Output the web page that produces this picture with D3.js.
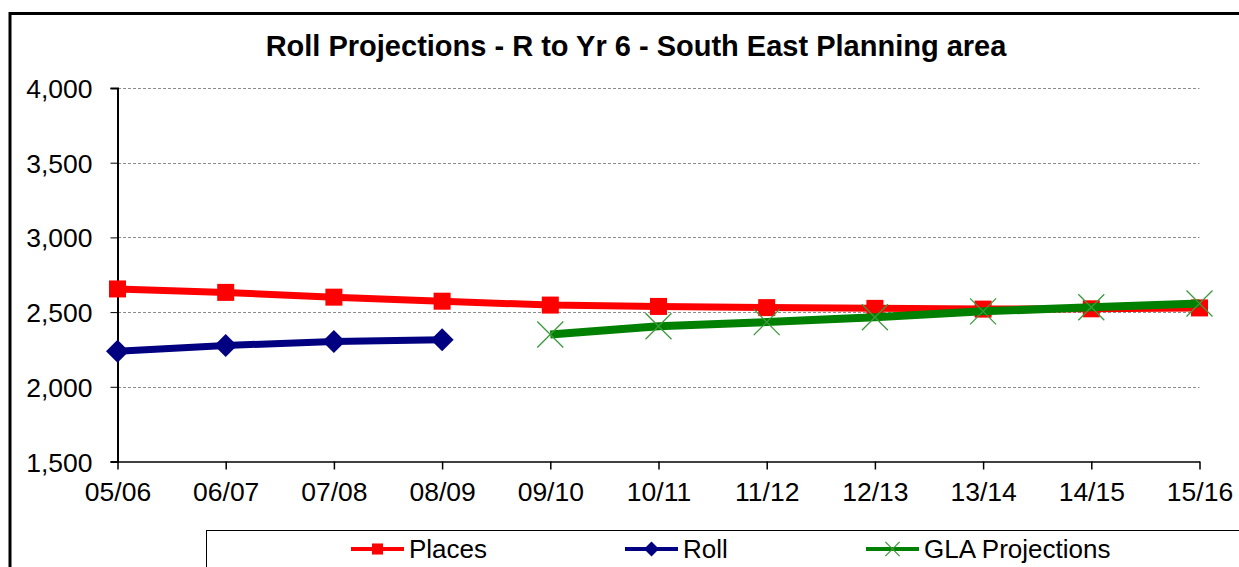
<!DOCTYPE html>
<html>
<head>
<meta charset="utf-8">
<script src="https://cdn.jsdelivr.net/npm/d3@7"></script>
<style>
  body { margin: 0; background: #fff; }
  svg text { font-family: "Liberation Sans", Arial, sans-serif; }
</style>
</head>
<body>
<div id="chart"></div>
<script>
// Data
const years = ["05/06", "06/07", "07/08", "08/09", "09/10", "10/11", "11/12", "12/13", "13/14", "14/15", "15/16"];
const places = [2655, 2632, 2600, 2573, 2547, 2538, 2530, 2525, 2520, 2522, 2528];
const roll = [2238, 2277, 2303, 2315, null, null, null, null, null, null, null];
const gla = [null, null, null, null, 2350, 2405, 2433, 2466, 2505, 2532, 2558];
const yTicks = [1500, 2000, 2500, 3000, 3500, 4000];

const width = 1239, height = 567;
const svg = d3.select("#chart").append("svg").attr("width", width).attr("height", height);

// outer frame (clipped at right and bottom)
svg.append("path").attr("d", `M10,${height + 5} L10,13.5 L${width + 5},13.5`)
  .attr("fill", "none").attr("stroke", "#000").attr("stroke-width", 3);

svg.append("text").text("Roll Projections - R to Yr 6 - South East Planning area")
  .attr("x", 636).attr("y", 56).attr("text-anchor", "middle")
  .attr("font-size", 29).attr("font-weight", "bold");

//Formatting and Scales
const x = d3.scalePoint().domain(years).range([117.5, 1199.5]);
const y = d3.scaleLinear().domain([1500, 4000]).range([461.5, 88]);

// gridlines
svg.append("g").selectAll("line").data(yTicks.slice(1)).join("line")
  .attr("x1", 118).attr("x2", 1199.5)
  .attr("y1", d => Math.round(y(d)) + 0.5).attr("y2", d => Math.round(y(d)) + 0.5)
  .attr("stroke", "#8c8c8c").attr("stroke-width", 1).attr("stroke-dasharray", "3,2");

// axes
const yAxis = d3.axisLeft(y).tickValues(yTicks).tickFormat(d3.format(",")).tickSize(7).tickPadding(18);
const yAxisGroup = svg.append("g").attr("transform", "translate(117.5,0)").call(yAxis);
yAxisGroup.select(".domain").attr("stroke-width", 2);
yAxisGroup.selectAll("text").attr("font-size", 26.5).attr("fill", "#000").attr("dy", "0.36em");

const xAxis = d3.axisBottom(x).tickSize(8).tickPadding(13).tickSizeOuter(0);
const xAxisGroup = svg.append("g").attr("transform", `translate(0,${y(1500)})`).call(xAxis);
xAxisGroup.select(".domain").attr("stroke-width", 1.5);
xAxisGroup.selectAll("text").attr("font-size", 26.5).attr("fill", "#000");
xAxisGroup.selectAll(".tick line").attr("stroke-width", 1.5);

// series
const series = [
  { name: "Places", values: places, color: "#ff0000", marker: "square" },
  { name: "Roll", values: roll, color: "#000080", marker: "diamond" },
  { name: "GLA Projections", values: gla, color: "#008000", marker: "cross" }
];

const line = d3.line().defined(d => d.v != null).x(d => x(d.year)).y(d => y(d.v));

function drawMarker(g, type, color, size) {
  if (type === "square") {
    g.append("rect").attr("x", -8.5 * size).attr("y", -8.5 * size).attr("width", 17 * size).attr("height", 17 * size)
      .attr("fill", color);
  } else if (type === "diamond") {
    const r = 11.5 * size;
    g.append("path").attr("d", `M0,${-r} L${r},0 L0,${r} L${-r},0 Z`).attr("fill", color);
  } else {
    const r = 13 * size;
    g.append("path").attr("d", `M${-r},${-r} L${r},${r} M${-r},${r} L${r},${-r}`)
      .attr("stroke", "#3c9a3c").attr("stroke-width", 1.3).attr("fill", "none");
  }
}

series.forEach(s => {
  const pts = years.map((yr, i) => ({ year: yr, v: s.values[i] }));
  svg.append("path").datum(pts).attr("d", line)
    .attr("fill", "none").attr("stroke", s.color).attr("stroke-width", s.marker === "cross" ? 8 : 7);
  pts.filter(d => d.v != null).forEach(d => {
    const g = svg.append("g").attr("transform", `translate(${x(d.year)},${y(d.v)})`);
    drawMarker(g, s.marker, s.color, 1);
  });
});

// legend
svg.append("rect").attr("x", 206.5).attr("y", 530.5).attr("width", 1100).attr("height", 100)
  .attr("fill", "#fff").attr("stroke", "#000").attr("stroke-width", 1);
const legendX = [351, 625, 866];
series.forEach((s, i) => {
  const g = svg.append("g").attr("transform", `translate(${legendX[i]},549)`);
  g.append("line").attr("x1", 0).attr("x2", 53).attr("stroke", s.color).attr("stroke-width", 4);
  const m = g.append("g").attr("transform", "translate(26.5,0)");
  drawMarker(m, s.marker, s.color, s.marker === "cross" ? 0.55 : 0.65);
  g.append("text").text(s.name).attr("x", 58).attr("dy", "0.36em").attr("font-size", 26);
});
</script>
</body>
</html>
